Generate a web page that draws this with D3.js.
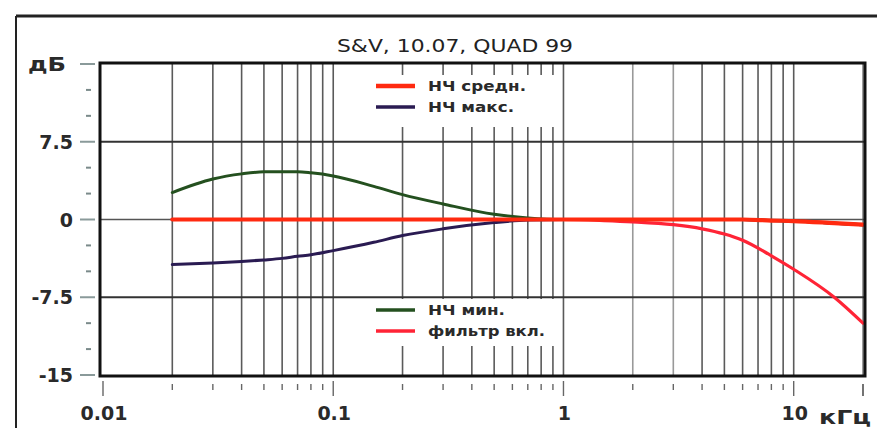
<!DOCTYPE html>
<html><head><meta charset="utf-8">
<script src="https://cdn.jsdelivr.net/npm/d3@7"></script>
<style>html,body{margin:0;padding:0;background:#fff;}svg{display:block;}</style>
</head><body>
<svg id="c" width="877" height="428"></svg>
<script>
const title = "S&V, 10.07, QUAD 99";
const freqs = [0.02,0.03,0.04,0.05,0.06,0.07,0.08,0.1,0.15,0.2,0.3,0.5,0.7,1,1.5,2,3,4,5,6,8,10,15,20];
const lfMin  = [2.6,3.9,4.4,4.6,4.6,4.6,4.5,4.2,3.2,2.4,1.5,0.5,0.15,0,0,0,0,0,0,0,-0.1,-0.15,-0.35,-0.5];
const lfMax  = [-4.35,-4.2,-4.05,-3.9,-3.75,-3.55,-3.4,-3.0,-2.2,-1.55,-0.9,-0.3,-0.05,0,0,0,0,0,0,0,-0.1,-0.15,-0.35,-0.5];
const lfMid  = [0,0,0,0,0,0,0,0,0,0,0,0,0,0,0,0,0,0,0,0,-0.1,-0.15,-0.35,-0.5];
const filter = [0,0,0,0,0,0,0,0,0,0,0,0,0,0,-0.1,-0.22,-0.5,-0.9,-1.4,-2.0,-3.5,-4.8,-7.5,-10];
const yTicks = [15,7.5,0,-7.5,-15];
const yTickLabels = ["дБ","7.5","0","-7.5","-15"];
const yMinor = [12.5,10,5,2.5,-2.5,-5,-10,-12.5];
const xLabelVals = [0.01,0.1,1,10];
const xLabels = ["0.01","0.1","1","10"];
const xUnit = "кГц";
const gridFreqs = [];
[0.01,0.1,1,10].forEach(d=>{for(let k=1;k<10;k++){const f=+(d*k).toPrecision(3); if(f>0.01 && f<=20) gridFreqs.push(f);}});
gridFreqs.push(20);
const series = [
  {name:"НЧ мин.", vals:lfMin, color:"#24501f", w:3},
  {name:"НЧ макс.", vals:lfMax, color:"#2a1b52", w:3},
  {name:"фильтр вкл.", vals:filter, color:"#ff2436", w:3.2},
  {name:"НЧ средн.", vals:lfMid, color:"#ff2a10", w:4.2}
];

const svg = d3.select("#c");
const L=100,R=865,T=63,B=376;
const x = d3.scaleLog().domain([0.01,20]).range([103,863]);
const y = d3.scaleLinear().domain([-15,15]).range([375,64]);
const fnt = "DejaVu Sans, Verdana, sans-serif";

// outer frame
svg.append("line").attr("x1",16).attr("x2",877).attr("y1",16).attr("y2",16).attr("stroke","#222").attr("stroke-width",3);
svg.append("line").attr("x1",16).attr("x2",16).attr("y1",16).attr("y2",428).attr("stroke","#222").attr("stroke-width",2);

svg.append("text").attr("x",337).attr("y",52)
  .attr("font-family",fnt).attr("font-size",17).attr("fill","#222")
  .attr("textLength",236).attr("lengthAdjust","spacingAndGlyphs").text(title);

// grid vertical
svg.append("g").selectAll("line").data(gridFreqs).join("line")
  .attr("x1",d=>x(d)).attr("x2",d=>x(d)).attr("y1",T).attr("y2",B)
  .attr("stroke",d=>(d===2||d===3||d===20)?"#999":"#5a5a5a").attr("stroke-width",1.6);

// legend boxes (white backgrounds covering grid)
svg.append("rect").attr("x",362).attr("y",75).attr("width",197).attr("height",52).attr("fill","#fff");
svg.append("rect").attr("x",362).attr("y",299).attr("width",197).attr("height",47).attr("fill","#fff");

// horizontal grid
svg.append("g").selectAll("line").data([7.5,-7.5]).join("line")
  .attr("x1",L).attr("x2",R).attr("y1",d=>y(d)).attr("y2",d=>y(d)).attr("stroke","#333").attr("stroke-width",2);
svg.append("line").attr("x1",L).attr("x2",R).attr("y1",y(0)).attr("y2",y(0)).attr("stroke","#555").attr("stroke-width",1.5);

// series
const line = d3.line().x((d,i)=>x(freqs[i])).y(d=>y(d)).curve(d3.curveMonotoneX);
svg.append("g").selectAll("path").data(series).join("path")
  .attr("d",d=>line(d.vals)).attr("fill","none").attr("stroke",d=>d.color).attr("stroke-width",d=>d.w)
  .attr("stroke-linecap","round");

// frame
svg.append("rect").attr("x",L).attr("y",T).attr("width",R-L).attr("height",B-T)
  .attr("fill","none").attr("stroke","#111").attr("stroke-width",3);

// y axis ticks & labels
svg.append("g").selectAll("line").data(yTicks).join("line")
  .attr("x1",80).attr("x2",95).attr("y1",d=>y(d)).attr("y2",d=>y(d)).attr("stroke","#8a9a9a").attr("stroke-width",2);
svg.append("g").selectAll("line").data(yMinor).join("line")
  .attr("x1",86).attr("x2",91).attr("y1",d=>y(d)).attr("y2",d=>y(d)).attr("stroke","#7a8a8a").attr("stroke-width",2);
svg.append("g").selectAll("text").data(yTicks).join("text")
  .attr("x",(d,i)=>i===0?66:73).attr("y",d=>y(d)+7).attr("text-anchor","end")
  .attr("font-family",fnt).attr("font-weight","bold").attr("font-size",19).attr("fill","#2a2a2a")
  .attr("textLength",(d,i)=>i===0?38:null).attr("lengthAdjust","spacingAndGlyphs")
  .text((d,i)=>yTickLabels[i]);

// x axis ticks
const xTickFreqs = [0.01].concat(gridFreqs);
svg.append("g").selectAll("line").data(xTickFreqs).join("line")
  .attr("x1",d=>x(d)).attr("x2",d=>x(d))
  .attr("y1",d=>xLabelVals.includes(d)?381:384).attr("y2",d=>xLabelVals.includes(d)||d===20?396:390)
  .attr("stroke","#666").attr("stroke-width",1.4);
svg.append("g").selectAll("text").data(xLabelVals).join("text")
  .attr("x",d=>x(d)+1).attr("y",420).attr("text-anchor","middle")
  .attr("font-family",fnt).attr("font-size",19).attr("fill","#2a2a2a").attr("font-weight","bold")
  .text((d,i)=>xLabels[i]);
svg.append("text").attr("x",819).attr("y",424)
  .attr("font-family",fnt).attr("font-weight","bold").attr("font-size",20).attr("fill","#2a2a2a")
  .attr("textLength",52).attr("lengthAdjust","spacingAndGlyphs").text(xUnit);

// legends
const legTop = [series[3], series[1]];
const legBot = [series[0], series[2]];
const legLen = {"НЧ средн.":98,"НЧ макс.":86,"НЧ мин.":77,"фильтр вкл.":117};
function legend(items, y0){
  const g = svg.append("g");
  items.forEach((s,i)=>{
    const yy = y0 + i*21;
    g.append("line").attr("x1",376).attr("x2",415).attr("y1",yy).attr("y2",yy)
      .attr("stroke",s.color).attr("stroke-width",s.w+0.5);
    g.append("text").attr("x",428).attr("y",yy+5).attr("font-family",fnt).attr("font-weight","bold")
      .attr("font-size",14).attr("fill","#2a2a2a")
      .attr("textLength",legLen[s.name]).attr("lengthAdjust","spacingAndGlyphs").text(s.name);
  });
}
legend(legTop, 86);
legend(legBot, 310);
</script>
</body></html>
